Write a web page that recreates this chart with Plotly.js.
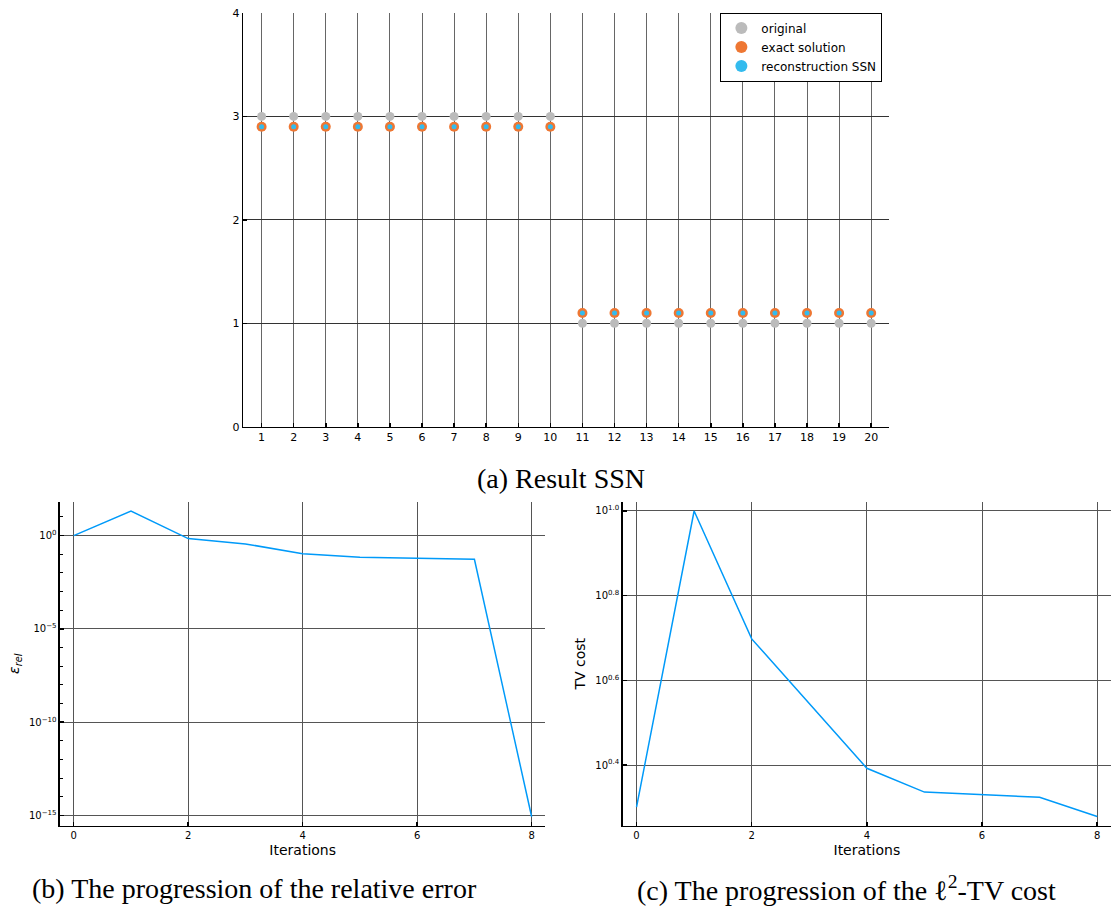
<!DOCTYPE html>
<html>
<head>
<meta charset="utf-8">
<script src="https://cdn.plot.ly/plotly-3.0.1.min.js"></script>
<style>
html,body{margin:0;padding:0;background:#fff;}
#plot{width:1111px;height:909px;}
</style>
</head>
<body>
<div id="plot"></div>
<script>
// ---- data: panel (a) ----
const positions = [1,2,3,4,5,6,7,8,9,10,11,12,13,14,15,16,17,18,19,20];
const original = [3,3,3,3,3,3,3,3,3,3,1,1,1,1,1,1,1,1,1,1];
const exactSolution = [2.9,2.9,2.9,2.9,2.9,2.9,2.9,2.9,2.9,2.9,1.1,1.1,1.1,1.1,1.1,1.1,1.1,1.1,1.1,1.1];
const reconstructionSSN = [2.9,2.9,2.9,2.9,2.9,2.9,2.9,2.9,2.9,2.9,1.1,1.1,1.1,1.1,1.1,1.1,1.1,1.1,1.1,1.1];
const seriesNames = ["original", "exact solution", "reconstruction SSN"];

// ---- data: panels (b) and (c) ----
const iterations = [0,1,2,3,4,5,6,7,8];
const relativeError = [1.0, 20.9, 0.692, 0.359, 0.108, 0.0692, 0.0617, 0.0543, 8.5e-16];
const tvCost = [2.0, 10.0, 4.99, 3.52, 2.47, 2.17, 2.14, 2.11, 1.90];

// ---- tick labels ----
const aXTicks = positions;
const aYTicks = [0,1,2,3,4];
const iterTicks = [0,2,4,6,8];
const errTickVals = [1, 1e-5, 1e-10, 1e-15];
const errTickText = ["10<sup>0</sup>", "10<sup>\u22125</sup>", "10<sup>\u221210</sup>", "10<sup>\u221215</sup>"];
const tvTickExp = [0.4, 0.6, 0.8, 1.0];
const tvTickText = ["10<sup>0.4</sup>", "10<sup>0.6</sup>", "10<sup>0.8</sup>", "10<sup>1.0</sup>"];

const captions = ["(a) Result SSN", "(b) The progression of the relative error", "(c) The progression of the \u2113<sup>2</sup>-TV cost"];

// colours
const cGrey = "#BBBBBB", cOrange = "#EE7733", cCyan = "#33BBEE", cLine = "#009AF9";

const errMinor = [];
for (let e = 1; e >= -15; e--) errMinor.push(Math.pow(10, e));
const tvTickVals = tvTickExp.map(e => Math.pow(10, e));

const FONT = "DejaVu Sans, sans-serif";
const SERIF = "Liberation Serif, serif";
const gridCol = "#555555";

function axisBase(extra) {
  return Object.assign({
    showline: true, linecolor: "#000", linewidth: 1.5, mirror: false,
    showgrid: true, gridcolor: gridCol, gridwidth: 1,
    zeroline: false,
    ticks: "inside", ticklen: 4, tickwidth: 1.5, tickcolor: "#000",
    tickfont: {family: FONT, size: 10, color: "#000"},
    fixedrange: true
  }, extra);
}

const traces = [
  {x: positions, y: original, type: "scatter", mode: "markers", name: seriesNames[0],
   marker: {color: cGrey, size: 9}, xaxis: "x", yaxis: "y"},
  {x: positions, y: exactSolution, type: "scatter", mode: "markers", name: seriesNames[1],
   marker: {color: cOrange, size: 10}, xaxis: "x", yaxis: "y"},
  {x: positions, y: reconstructionSSN, type: "scatter", mode: "markers", name: seriesNames[2],
   marker: {color: cCyan, size: 5}, xaxis: "x", yaxis: "y"},
  {x: iterations, y: relativeError, type: "scatter", mode: "lines", showlegend: false,
   line: {color: cLine, width: 1.5}, xaxis: "x2", yaxis: "y2"},
  {x: iterations, y: tvCost, type: "scatter", mode: "lines", showlegend: false,
   line: {color: cLine, width: 1.5}, xaxis: "x3", yaxis: "y3"}
];

const layout = {
  width: 1111, height: 909,
  margin: {l: 0, r: 0, t: 0, b: 0},
  paper_bgcolor: "#fff", plot_bgcolor: "#fff",
  font: {family: FONT, color: "#000"},
  showlegend: true,
  legend: {
    x: 0.7942, xanchor: "right", y: 0.9862, yanchor: "top",
    bgcolor: "#fff", bordercolor: "#000", borderwidth: 1,
    font: {family: FONT, size: 12, color: "#000"},
    itemsizing: "constant", tracegroupgap: 0
  },
  xaxis: axisBase({domain: [0.2190, 0.8006], range: [0.43, 20.57], anchor: "y",
    tickmode: "array", tickvals: aXTicks, tickfont: {family: FONT, size: 11, color: "#000"},
    gridcolor: "#666666"}),
  yaxis: axisBase({domain: [0.5306, 0.9857], range: [0, 4], anchor: "x",
    tickmode: "array", tickvals: aYTicks, tickfont: {family: FONT, size: 11, color: "#000"},
    gridcolor: "#333333"}),
  xaxis2: axisBase({domain: [0.0540, 0.4909], range: [-0.24, 8.24], anchor: "y2",
    tickmode: "array", tickvals: iterTicks,
    title: {text: "Iterations", font: {family: FONT, size: 14, color: "#000"}, standoff: 5}}),
  yaxis2: axisBase({domain: [0.0916, 0.4481], type: "log", range: [-15.55, 1.82], anchor: "x2",
    tickmode: "array", tickvals: errTickVals, ticktext: errTickText,
    minor: {tickmode: "array", tickvals: errMinor, ticks: "inside", ticklen: 3, tickwidth: 1, tickcolor: "#000", showgrid: false},
    title: {text: "<i>\u03b5<sub>rel</sub></i>", font: {family: FONT, size: 14, color: "#000"}, standoff: 6}}),
  xaxis3: axisBase({domain: [0.5605, 1.0], range: [-0.24, 8.24], anchor: "y3",
    tickmode: "array", tickvals: iterTicks,
    title: {text: "Iterations", font: {family: FONT, size: 14, color: "#000"}, standoff: 5}}),
  yaxis3: axisBase({domain: [0.0916, 0.4481], type: "log", range: [0.257, 1.022], anchor: "x3",
    tickmode: "array", tickvals: tvTickVals, ticktext: tvTickText,
    title: {text: "TV cost", font: {family: FONT, size: 14, color: "#000"}, standoff: 6}}),
  annotations: [
    {text: captions[0], xref: "paper", yref: "paper", x: 0.505, y: 0.4741, xanchor: "center", yanchor: "middle",
     showarrow: false, font: {family: SERIF, size: 28, color: "#000"}},
    {text: captions[1], xref: "paper", yref: "paper", x: 0.2295, y: 0.0231, xanchor: "center", yanchor: "middle",
     showarrow: false, font: {family: SERIF, size: 28, color: "#000"}},
    {text: captions[2], xref: "paper", yref: "paper", x: 0.7615, y: 0.0231, xanchor: "center", yanchor: "middle",
     showarrow: false, font: {family: SERIF, size: 28, color: "#000"}}
  ]
};

Plotly.newPlot("plot", traces, layout, {displayModeBar: false, staticPlot: true});
</script>
</body>
</html>
